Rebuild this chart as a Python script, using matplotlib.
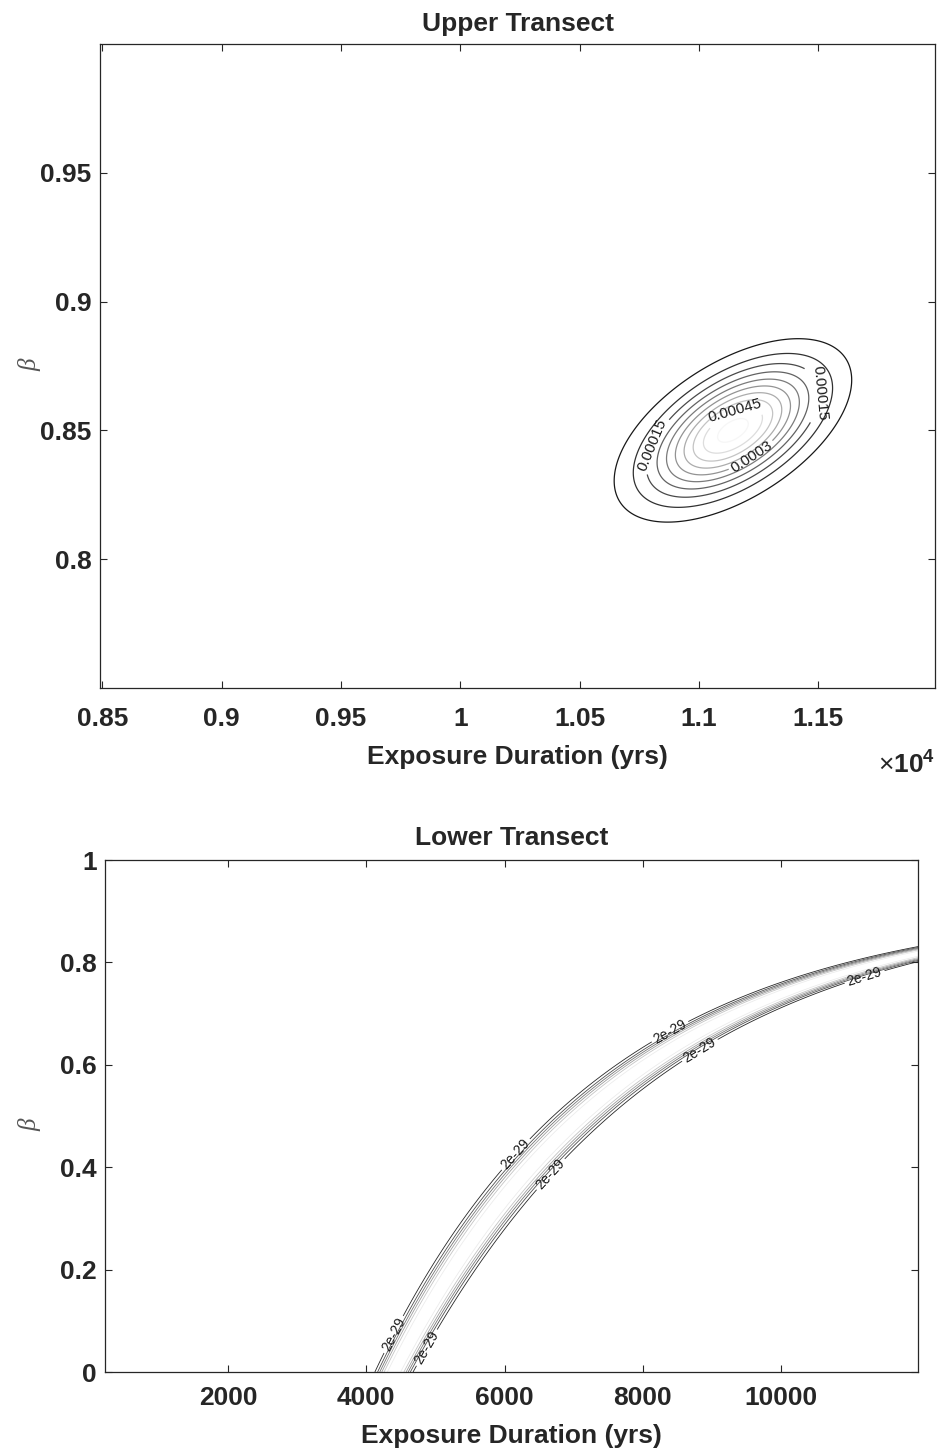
import numpy as np
import matplotlib.pyplot as plt
from matplotlib.ticker import FuncFormatter

plt.rcParams['font.family'] = ['Liberation Sans', 'DejaVu Sans']
plt.rcParams['mathtext.fontset'] = 'custom'
plt.rcParams['mathtext.rm'] = 'Liberation Sans'
plt.rcParams['mathtext.bf'] = 'Liberation Sans:bold'

TXT = '#262626'
FS = 19

# ---- upper transect: likelihood peak
up_center = (11143.0, 0.850)      # exposure (yrs), beta
up_sigma = (230.0, 0.01645)
up_rho = 0.55
up_peak = 0.00052
up_levels = [0.00005, 0.0001, 0.00015, 0.0002, 0.00025, 0.0003, 0.00035, 0.0004, 0.00045, 0.0005]
up_label_levels = [0.00015, 0.0003, 0.00045]
up_label_pos = [(10833, 0.8431), (11508, 0.8643), (11226, 0.8392), (11171, 0.8527)]
up_xticks = [8500, 9000, 9500, 10000, 10500, 11000, 11500]
up_yticks = [0.8, 0.85, 0.9, 0.95]

# ---- lower transect: ridge of acceptable solutions
lo_t0 = 4400.0        # exposure where ridge meets beta = 0
lo_tau = 3460.0
lo_bmax = 0.92
lo_width = (224.0, 214.0)   # ridge width scale (yrs) at beta=0, growth per unit beta
lo_peak = 1.3e-28
lo_levels = [2e-29, 4e-29, 6e-29, 8e-29, 1e-28, 1.2e-28]
lo_label_levels = [2e-29]
lo_label_pos = [(4536, 0.063), (4855, 0.049), (6203, 0.42), (6478, 0.41),
                (8449, 0.651), (8840, 0.625), (11188, 0.78)]
lo_xticks = [2000, 4000, 6000, 8000, 10000]
lo_yticks = [0, 0.2, 0.4, 0.6, 0.8, 1]

fig = plt.figure(figsize=(9.38, 14.48), dpi=100)
ax1 = fig.add_axes([100/938, 1-688/1448, 835/938, 644/1448])
ax2 = fig.add_axes([105/938, 1-1372/1448, 813/938, 512/1448])


def style(ax, xpad):
    ax.tick_params(direction='in', length=5, width=0.8, top=True, right=True,
                   labelsize=FS, colors=TXT)
    ax.tick_params(axis='x', pad=xpad)
    ax.tick_params(axis='y', pad=6)
    for lab in ax.get_xticklabels() + ax.get_yticklabels():
        lab.set_fontweight('bold')
    for s in ax.spines.values():
        s.set_color(TXT)
        s.set_linewidth(0.9)


def contour_with_labels(ax, X, Y, Z, levels, lab_levels, lab_pos, peak, lw, fs):
    rest = [l for l in levels if l not in lab_levels]
    ax.contour(X, Y, Z, levels=rest, cmap='gray', vmin=0, vmax=peak, linewidths=lw)
    cl = ax.contour(X, Y, Z, levels=lab_levels, cmap='gray', vmin=0, vmax=peak, linewidths=lw)
    ax.clabel(cl, manual=lab_pos, fontsize=fs, colors='#1a1a1a', fmt='%g', inline_spacing=3)


# upper
x = np.linspace(8490, 11990, 600)
y = np.linspace(0.75, 1.0, 600)
X, Y = np.meshgrid(x, y)
dx = (X - up_center[0]) / up_sigma[0]
dy = (Y - up_center[1]) / up_sigma[1]
q = (dx**2 - 2*up_rho*dx*dy + dy**2) / (1 - up_rho**2)
Z = up_peak * np.exp(-q/2)
contour_with_labels(ax1, X, Y, Z, up_levels, up_label_levels, up_label_pos, up_peak, 0.9, 11)
ax1.set_xlim(8490, 11990)
ax1.set_ylim(0.75, 1.0)
ax1.set_xticks(up_xticks)
ax1.set_yticks(up_yticks)
ax1.xaxis.set_major_formatter(FuncFormatter(lambda v, p: '%g' % (v/1e4)))
ax1.yaxis.set_major_formatter(FuncFormatter(lambda v, p: '%g' % v))
style(ax1, 14)
ax1.set_title('Upper Transect', fontsize=FS, fontweight='bold', color=TXT, pad=9)
ax1.set_xlabel('Exposure Duration (yrs)', fontsize=FS, fontweight='bold', color=TXT, labelpad=10)
fig.text(935/938, 1-765/1448, r'$\times\mathbf{10^{4}}$', fontsize=FS, color=TXT, ha='right', va='center')

# lower
t = np.linspace(220, 11980, 700)
b = np.linspace(0, 1, 700)
T, B = np.meshgrid(t, b)
frac = np.clip(1 - B/lo_bmax, 1e-9, None)
tc = lo_t0 - lo_tau*np.log(frac)
sw = lo_width[0] + lo_width[1]*B
Z2 = lo_peak * np.exp(-np.abs((T - tc)/sw)**3)
contour_with_labels(ax2, T, B, Z2, lo_levels, lo_label_levels, lo_label_pos, lo_peak, 0.6, 10)
ax2.set_xlim(220, 11980)
ax2.set_ylim(0, 1)
ax2.set_xticks(lo_xticks)
ax2.set_yticks(lo_yticks)
ax2.yaxis.set_major_formatter(FuncFormatter(lambda v, p: '%g' % v))
style(ax2, 10)
ax2.set_title('Lower Transect', fontsize=FS, fontweight='bold', color=TXT, pad=11)
ax2.set_xlabel('Exposure Duration (yrs)', fontsize=FS, fontweight='bold', color=TXT, labelpad=10)

# beta axis labels
for yy in (365, 1125):
    fig.text(30/938, 1-yy/1448, 'β', fontsize=18, family='Liberation Serif', style='italic',
             color='#555555', rotation=90, ha='center', va='center')

fig.savefig('out.png', dpi=100)
